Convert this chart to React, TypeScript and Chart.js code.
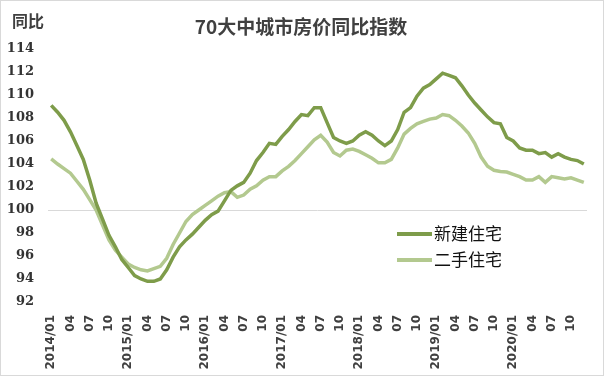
import React, { useEffect, useRef } from "react";
import { Chart, registerables } from "chart.js";

Chart.register(...registerables);

const TITLE = "70大中城市房价同比指数";
const Y_LABEL = "同比";
const SERIES_NAMES = ["新建住宅", "二手住宅"];

const YEARS = [2014, 2015, 2016, 2017, 2018, 2019, 2020];
const MONTHS = ["01", "02", "03", "04", "05", "06", "07", "08", "09", "10", "11", "12"];
const CATEGORIES: string[] = YEARS.flatMap((y) => MONTHS.map((m) => `${y}/${m}`));

const NEW_HOMES = [
  109.1, 108.5, 107.8, 106.8, 105.6, 104.4, 102.6, 100.6, 99.2, 97.8, 96.8, 95.7,
  95.0, 94.3, 94.0, 93.8, 93.8, 94.0, 94.8, 95.9, 96.8, 97.4, 97.9, 98.5,
  99.1, 99.6, 99.9, 100.8, 101.7, 102.1, 102.4, 103.2, 104.3, 105.0, 105.8, 105.7,
  106.4, 107.0, 107.7, 108.3, 108.2, 108.9, 108.9, 107.6, 106.3, 106.0, 105.8, 106.0,
  106.5, 106.8, 106.5, 106.0, 105.6, 106.0, 107.0, 108.5, 108.9, 109.9, 110.6, 110.9,
  111.4, 111.9, 111.7, 111.5, 110.8, 110.0, 109.3, 108.7, 108.1, 107.6, 107.5, 106.3,
  106.0, 105.4, 105.2, 105.2, 104.9, 105.0, 104.6, 104.9, 104.6, 104.4, 104.3, 104.0,
];

const SECOND_HAND = [
  104.45, 104.0, 103.6, 103.2, 102.5, 101.8, 100.9, 100.0, 98.7, 97.4, 96.5, 95.9,
  95.3, 95.0, 94.8, 94.7, 94.9, 95.1, 95.8, 97.0, 98.0, 99.0, 99.6, 100.0,
  100.4, 100.8, 101.2, 101.5, 101.6, 101.1, 101.3, 101.8, 102.1, 102.6, 102.9, 102.9,
  103.4, 103.8, 104.3, 104.9, 105.5, 106.1, 106.5, 105.9, 105.0, 104.7, 105.2, 105.3,
  105.1, 104.8, 104.5, 104.1, 104.1, 104.4, 105.4, 106.6, 107.1, 107.5, 107.7, 107.9,
  108.0, 108.3, 108.2, 107.8, 107.3, 106.7, 105.8, 104.6, 103.8, 103.45, 103.35, 103.3,
  103.1, 102.9, 102.6, 102.6, 102.9, 102.4, 102.9, 102.8, 102.7, 102.8, 102.6, 102.4,
];

const Y_MIN = 92;
const Y_MAX = 114;
const Y_STEP = 2;

const COLORS = ["#7e9c4a", "#b3c98f"];

const decorPlugin = {
  id: "decor",
  afterDraw(chart: any) {
    const ctx = chart.ctx;
    ctx.save();
    // border
    ctx.strokeStyle = "#d9d9d9";
    ctx.lineWidth = 1;
    ctx.strokeRect(0.5, 0.5, chart.width - 1, chart.height - 1);
    // title
    ctx.fillStyle = "#404040";
    ctx.textAlign = "center";
    ctx.textBaseline = "middle";
    ctx.font = "bold 19px 'Noto Sans CJK SC'";
    ctx.fillText(TITLE, 301, 27);
    // y label
    ctx.textAlign = "left";
    ctx.font = "bold 16px 'Noto Sans CJK SC'";
    ctx.fillText(Y_LABEL, 12, 21);
    // legend
    const items = chart.data.datasets;
    items.forEach((ds: any, i: number) => {
      const y = 234 + i * 26;
      ctx.strokeStyle = ds.borderColor;
      ctx.lineWidth = 4;
      ctx.beginPath();
      ctx.moveTo(397, y);
      ctx.lineTo(432, y);
      ctx.stroke();
      ctx.fillStyle = "#111";
      ctx.font = "17px 'Noto Sans CJK SC'";
      ctx.textAlign = "left";
      ctx.textBaseline = "middle";
      ctx.fillText(ds.label, 434, y);
    });
    ctx.restore();
  },
};

export default function App() {
  const ref = useRef<HTMLCanvasElement>(null);
  useEffect(() => {
    if (!ref.current) return;
    const chart = new Chart(ref.current, {
      type: "line",
      data: {
        labels: CATEGORIES,
        datasets: [
          {
            label: SERIES_NAMES[0],
            data: NEW_HOMES,
            borderColor: COLORS[0],
            backgroundColor: COLORS[0],
            borderWidth: 3.5,
            pointRadius: 0,
            tension: 0,
          },
          {
            label: SERIES_NAMES[1],
            data: SECOND_HAND,
            borderColor: COLORS[1],
            backgroundColor: COLORS[1],
            borderWidth: 3.5,
            pointRadius: 0,
            tension: 0,
          },
        ],
      },
      options: {
        animation: false,
        responsive: true,
        maintainAspectRatio: false,
        layout: { padding: { top: 49, right: 17, left: 0, bottom: 0 } },
        plugins: {
          legend: { display: false },
          title: { display: false },
          tooltip: { enabled: false },
        },
        scales: {
          x: {
            offset: true,
            grid: { display: false, drawTicks: false },
            border: { display: false },
            afterFit(scale: any) {
              scale.height = 74;
            },
            ticks: {
              autoSkip: false,
              minRotation: 90,
              maxRotation: 90,
              padding: 13,
              color: "#404040",
              font: { family: "'DejaVu Sans'", weight: "bold", size: 12 },
              callback(_v: any, idx: number) {
                const lab = CATEGORIES[idx];
                const mm = lab.split("/")[1];
                const mi = parseInt(mm, 10);
                if ((mi - 1) % 3 !== 0) return null;
                return mi === 1 ? lab : mm;
              },
            },
          },
          y: {
            min: Y_MIN,
            max: Y_MAX,
            afterFit(scale: any) {
              scale.width = 48;
            },
            grid: {
              drawTicks: false,
              color: (c: any) => (c.tick && c.tick.value === 100 ? "#d9d9d9" : "rgba(0,0,0,0)"),
              lineWidth: 1,
            },
            border: { display: false },
            ticks: {
              stepSize: Y_STEP,
              padding: 14,
              color: "#333",
              font: { family: "'DejaVu Serif'", weight: "bold", size: 13 },
            },
          },
        },
      },
      plugins: [decorPlugin],
    });
    return () => chart.destroy();
  }, []);
  return (
    <div style={{ width: 604, height: 376, position: "relative" }}>
      <style>{`body{margin:0;overflow:hidden;background:#fff}`}</style>
      <canvas ref={ref} />
    </div>
  );
}
